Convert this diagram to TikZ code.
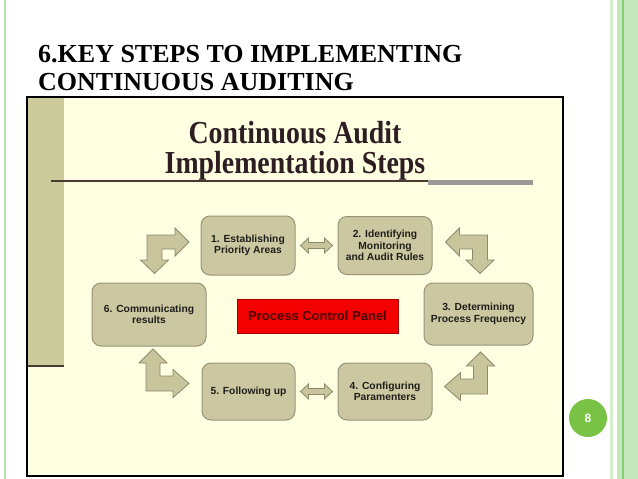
\documentclass[tikz,border=0pt]{standalone}
\usepackage{fontspec}
\usepackage{graphicx}
\setmainfont{Liberation Serif}
\newfontfamily\arialf{Liberation Sans}
\usetikzlibrary{calc}
\definecolor{framefill}{HTML}{FFFFE2}
\definecolor{olivec}{HTML}{CCCB9B}
\definecolor{nodefill}{HTML}{CBC7A0}
\definecolor{nodeedge}{HTML}{97947A}
\definecolor{arrfill}{HTML}{C8C59C}
\definecolor{arredge}{HTML}{8C8A6C}
\definecolor{headc}{HTML}{2E1E24}
\definecolor{steptxt}{HTML}{1E1E1A}
\definecolor{panelred}{HTML}{F50000}
\definecolor{paneledge}{HTML}{A80000}
\definecolor{paneltxt}{HTML}{4A0000}
\definecolor{gcircle}{HTML}{78C346}
\definecolor{gline}{HTML}{B7E0AC}
\definecolor{gpale}{HTML}{D6EECF}
\definecolor{gband}{HTML}{C6E8BE}
\definecolor{gdark}{HTML}{88CC78}
\definecolor{rulec}{HTML}{4B3A30}
\tikzset{
  titletext/.style={font=\bfseries\fontsize{26}{28}\selectfont, text=black, inner sep=0pt, anchor=base west},
  headtext/.style={font=\bfseries\fontsize{32}{34}\selectfont, text=headc, inner sep=0pt, anchor=base},
  stepbox/.style={draw=nodeedge, fill=nodefill, rounded corners=9pt, line width=1pt, align=center,
    font=\arialf\bfseries\fontsize{10.3}{11.5}\selectfont, text=steptxt, inner sep=0pt},
  panelbox/.style={draw=paneledge, fill=panelred, line width=1pt, inner sep=0pt,
    font=\arialf\bfseries\fontsize{13}{14}\selectfont, text=paneltxt},
  bentarrow/.style={fill=arrfill, draw=arredge, line width=0.8pt, line join=miter},
  dblarr/.pic={\draw[bentarrow] (-16,0) -- (-8,-7.5) -- (-8,-3) -- (8,-3) -- (8,-7.5) -- (16,0)
     -- (8,7.5) -- (8,3) -- (-8,3) -- (-8,7.5) -- cycle;}
}
\begin{document}
\begin{tikzpicture}[x=1pt,y=-1pt]
\useasboundingbox (0,0) rectangle (638,479);
\fill[white] (0,0) rectangle (638,479);
% green page decorations
\fill[gline] (4,0) rectangle (6,479);
\fill[gpale] (610,0) rectangle (613,479);
\fill[gband] (617,0) rectangle (638,479);
\fill[gdark] (622,0) rectangle (623.5,479);
% slide title
\node[titletext] (t1) at (38,62) {6.KEY STEPS TO IMPLEMENTING};
\node[titletext] (t2) at (38,90) {CONTINUOUS AUDITING};
% embedded picture frame
\draw[line width=2pt, fill=framefill] (27,97) rectangle (563,476);
\fill[olivec] (28,98) rectangle (64,366);
\draw[rulec, line width=1.8pt] (28,366) -- (64,366);
% heading
\node[headtext] (h1) at (295,143) {\scalebox{0.87}[1]{Continuous Audit}};
\node[headtext] (h2) at (295,173) {\scalebox{0.87}[1]{Implementation Steps}};
\draw[rulec, line width=1.5pt] (51,181) -- (533,181);
\fill[black!40] (428,179.5) rectangle (533,185);
% steps
\node[stepbox, minimum width=94pt, minimum height=59pt] (n1) at (248,245.5) {1. Establishing\\Priority Areas};
\node[stepbox, minimum width=94pt, minimum height=58pt] (n2) at (385,245.5) {2. Identifying\\Monitoring\\and Audit Rules};
\node[stepbox, minimum width=109pt, minimum height=62pt] (n3) at (478.5,314) {3. Determining\\Process Frequency};
\node[stepbox, minimum width=94pt, minimum height=57pt] (n4) at (385,391.5) {4. Configuring\\Paramenters};
\node[stepbox, minimum width=93pt, minimum height=57pt] (n5) at (248.5,391.5) {5. Following up};
\node[stepbox, minimum width=114pt, minimum height=63pt] (n6) at (149,314.5) {6. Communicating\\results};
\node[panelbox, minimum width=161pt, minimum height=34pt] (pcp) at (317.5,316) {Process Control Panel};
% double arrows
\pic at ($(n1.east)!0.5!(n2.west)$) {dblarr};
\pic at ($(n5.east)!0.5!(n4.west)$) {dblarr};
% bent arrows
\draw[bentarrow] (147,235) -- (175,235) -- (175,228) -- (189,242) -- (175,256) -- (175,249) -- (162,249)
  -- (162,260) -- (168.5,260) -- (154.5,273.5) -- (140.5,260) -- (147,260) -- cycle;
\draw[bentarrow] (487.5,235) -- (459.5,235) -- (459.5,228) -- (445.5,242) -- (459.5,256) -- (459.5,249)
  -- (472.5,249) -- (472.5,260) -- (466,260) -- (480,273.5) -- (494,260) -- (487.5,260) -- cycle;
\draw[bentarrow] (146,391) -- (146,363) -- (139,363) -- (153,349) -- (167,363) -- (160,363) -- (160,376)
  -- (173,376) -- (173,369.5) -- (189,383.5) -- (173,397.5) -- (173,391) -- cycle;
\draw[bentarrow] (487.5,394) -- (487.5,366) -- (494.5,366) -- (480.5,352) -- (466.5,366) -- (473.5,366)
  -- (473.5,379) -- (460.5,379) -- (460.5,372.5) -- (444.5,386.5) -- (460.5,400.5) -- (460.5,394) -- cycle;
% page number
\node[circle, fill=gcircle, minimum size=38pt, inner sep=0pt, text=white,
  font=\arialf\bfseries\fontsize{12}{13}\selectfont] (pg) at (588,418) {8};
\end{tikzpicture}
\end{document}
